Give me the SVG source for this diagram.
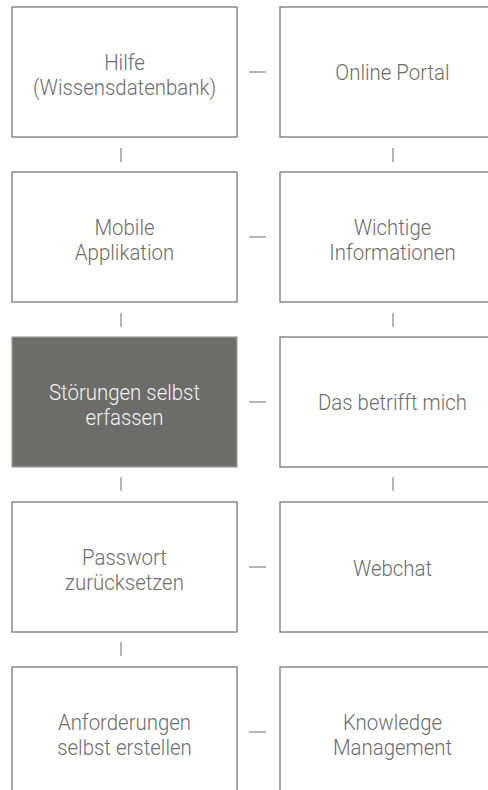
<svg xmlns="http://www.w3.org/2000/svg" width="488" height="790" viewBox="0 0 488 790">
  <style>
    .box { fill: #ffffff; stroke: #777777; stroke-width: 1.3; }
    .box.active { fill: #6c6c6a; stroke: #a0a0a0; }
    .label { font-family: Roboto, "Liberation Sans", sans-serif; font-weight: 300; font-size: 21.5px; fill: #6c6c6c; text-anchor: middle;
             transform-box: fill-box; transform-origin: center; transform: scaleX(0.95); }
    .active-label { fill: #f2f2f2; }
    .link { stroke: #8e8e8e; stroke-width: 1.3; fill: none; }
  </style>
  <rect width="488" height="790" fill="#ffffff"/>

  <g id="connectors">
    <!-- horizontal links between columns -->
    <line class="link" x1="249" y1="72" x2="266" y2="72"/>
    <line class="link" x1="249" y1="237" x2="266" y2="237"/>
    <line class="link" x1="249" y1="402" x2="266" y2="402"/>
    <line class="link" x1="249" y1="567" x2="266" y2="567"/>
    <line class="link" x1="249" y1="732" x2="266" y2="732"/>
    <!-- vertical links, left column -->
    <line class="link" x1="121" y1="148" x2="121" y2="162"/>
    <line class="link" x1="121" y1="313" x2="121" y2="327"/>
    <line class="link" x1="121" y1="477" x2="121" y2="491"/>
    <line class="link" x1="121" y1="642" x2="121" y2="656"/>
    <!-- vertical links, right column -->
    <line class="link" x1="393" y1="148" x2="393" y2="162"/>
    <line class="link" x1="393" y1="313" x2="393" y2="327"/>
    <line class="link" x1="393" y1="477" x2="393" y2="491"/>
  </g>

  <g id="hilfe">
    <rect class="box" x="12" y="7" width="225" height="130"/>
    <text class="label" x="124.5" y="70">Hilfe</text>
    <text class="label" x="124.5" y="95">(Wissensdatenbank)</text>
  </g>
  <g id="online-portal">
    <rect class="box" x="280" y="7" width="225" height="130"/>
    <text class="label" x="392.5" y="80.5">Online Portal</text>
  </g>

  <g id="mobile-app">
    <rect class="box" x="12" y="172" width="225" height="130"/>
    <text class="label" x="124.5" y="235">Mobile</text>
    <text class="label" x="124.5" y="260">Applikation</text>
  </g>
  <g id="wichtige-informationen">
    <rect class="box" x="280" y="172" width="225" height="130"/>
    <text class="label" x="392.5" y="235">Wichtige</text>
    <text class="label" x="392.5" y="260">Informationen</text>
  </g>

  <g id="stoerungen">
    <rect class="box active" x="12" y="337" width="225" height="130"/>
    <text class="label active-label" x="124.5" y="400">Störungen selbst</text>
    <text class="label active-label" x="124.5" y="425">erfassen</text>
  </g>
  <g id="betrifft-mich">
    <rect class="box" x="280" y="337" width="225" height="130"/>
    <text class="label" x="392.5" y="410.5">Das betrifft mich</text>
  </g>

  <g id="passwort">
    <rect class="box" x="12" y="502" width="225" height="130"/>
    <text class="label" x="124.5" y="565">Passwort</text>
    <text class="label" x="124.5" y="590">zurücksetzen</text>
  </g>
  <g id="webchat">
    <rect class="box" x="280" y="502" width="225" height="130"/>
    <text class="label" x="392.5" y="575.5">Webchat</text>
  </g>

  <g id="anforderungen">
    <rect class="box" x="12" y="667" width="225" height="130"/>
    <text class="label" x="124.5" y="730">Anforderungen</text>
    <text class="label" x="124.5" y="755">selbst erstellen</text>
  </g>
  <g id="knowledge-management">
    <rect class="box" x="280" y="667" width="225" height="130"/>
    <text class="label" x="392.5" y="730">Knowledge</text>
    <text class="label" x="392.5" y="755">Management</text>
  </g>
</svg>
